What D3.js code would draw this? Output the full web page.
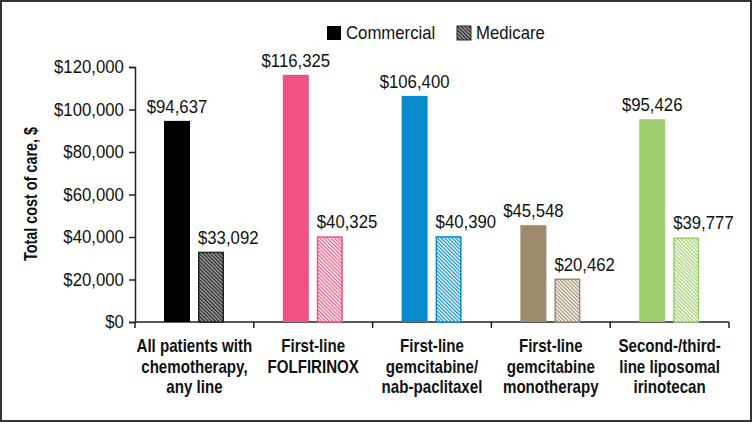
<!DOCTYPE html>
<html>
<head>
<meta charset="utf-8">
<script src="https://cdn.jsdelivr.net/npm/d3@7"></script>
<style>
  html, body { margin: 0; padding: 0; background: #fff; }
  svg text { font-family: "Liberation Sans", Arial, sans-serif; fill: #111; }
</style>
</head>
<body>
<svg id="chart" width="754" height="424"></svg>
<script>
const categories = [
  ["All patients with", "chemotherapy,", "any line"],
  ["First-line", "FOLFIRINOX"],
  ["First-line", "gemcitabine/", "nab-paclitaxel"],
  ["First-line", "gemcitabine", "monotherapy"],
  ["Second-/third-", "line liposomal", "irinotecan"]
];
const seriesNames = ["Commercial", "Medicare"];
const commercial = [94637, 116325, 106400, 45548, 95426];
const medicare = [33092, 40325, 40390, 20462, 39777];
const groupColors = ["#000000", "#EF5181", "#0A8BD0", "#9D8B6C", "#9DCD6C"];
const yTicks = [0, 20000, 40000, 60000, 80000, 100000, 120000];
const yTitle = "Total cost of care, $";

const SX = 0.93;  // condensed look for regular text
const SXB = 0.84; // condensed look for bold text

const svg = d3.select("#chart");
const W = 754, H = 424;

// frame
svg.append("rect").attr("x", 1).attr("y", 1).attr("width", W - 4).attr("height", H - 4)
  .attr("fill", "none").attr("stroke", "#333").attr("stroke-width", 2);

const defs = svg.append("defs");
function hatch(id, color, bg) {
  const p = defs.append("pattern").attr("id", id).attr("patternUnits", "userSpaceOnUse")
    .attr("width", 2.6).attr("height", 2.6).attr("patternTransform", "rotate(-45)");
  p.append("rect").attr("width", 2.6).attr("height", 2.6).attr("fill", bg);
  p.append("rect").attr("x", 0).attr("y", 0).attr("width", 1.2).attr("height", 2.6).attr("fill", color);
}
groupColors.forEach((c, i) => hatch("h" + i, i === 0 ? "#1a1a1a" : c, i === 0 ? "#aaa" : "#fff"));

function label(parent, x, y, txt, opts = {}) {
  const s = opts.bold ? SXB : SX;
  return parent.append("text")
    .attr("transform", `translate(${x},${y}) scale(${s},1)`)
    .attr("text-anchor", opts.anchor || "start")
    .attr("font-size", opts.size || 18)
    .attr("font-weight", opts.bold ? "bold" : "normal")
    .text(txt);
}

const x0 = d3.scaleBand().domain(d3.range(categories.length)).range([135, 729]).padding(0);
const x1 = d3.scaleBand().domain(seriesNames).range([29, 89]).paddingInner(8 / 34).paddingOuter(0);
const y = d3.scaleLinear().domain([0, 120000]).range([322, 67]);

const fmt = v => "$" + d3.format(",")(v);

// y axis
const yAxis = svg.append("g").attr("transform", "translate(135,0)")
  .call(d3.axisLeft(y).tickValues(yTicks).tickFormat(fmt).tickSize(6).tickPadding(6));
yAxis.select(".domain").attr("stroke", "#222").attr("stroke-width", 1.5);
yAxis.selectAll(".tick line").attr("stroke", "#222").attr("stroke-width", 1.5);
yAxis.selectAll("text").attr("font-size", 18).style("font-family", null)
  .attr("transform", `scale(${SX},1)`);

// x axis
const xAxis = svg.append("g").attr("transform", "translate(0,322)");
xAxis.append("line").attr("x1", x0.range()[0]).attr("x2", x0.range()[1])
  .attr("stroke", "#222").attr("stroke-width", 1.5);
const boundaries = d3.range(categories.length + 1).map(i => i < categories.length ? x0(i) : x0(i - 1) + x0.step());
xAxis.selectAll(".xt").data(boundaries).join("line").attr("class", "xt")
  .attr("x1", d => d).attr("x2", d => d).attr("y1", 0).attr("y2", 6)
  .attr("stroke", "#222").attr("stroke-width", 1.5);

// category labels
categories.forEach((lines, i) => {
  lines.forEach((l, j) => label(svg, x0(i) + x0.bandwidth() / 2, 352 + j * 20.5, l, {bold: true, anchor: "middle"}));
});

// bars
const g = svg.append("g");
categories.forEach((c, i) => {
  const cx = x0(i) + x1("Commercial");
  g.append("rect").attr("x", cx).attr("y", y(commercial[i])).attr("width", x1.bandwidth())
    .attr("height", y(0) - y(commercial[i])).attr("fill", groupColors[i]);
  label(g, cx + x1.bandwidth() / 2, y(commercial[i]) - 8, fmt(commercial[i]), {anchor: "middle"});
  const mx = x0(i) + x1("Medicare");
  g.append("rect").attr("x", mx + 0.75).attr("y", y(medicare[i]) + 0.75).attr("width", x1.bandwidth() - 1.5)
    .attr("height", y(0) - y(medicare[i]) - 0.75).attr("fill", "url(#h" + i + ")")
    .attr("stroke", i === 0 ? "#222" : groupColors[i]).attr("stroke-width", 1.5);
  label(g, mx, y(medicare[i]) - 8, fmt(medicare[i]), {anchor: "start"});
});

// y title
svg.append("text").attr("transform", `translate(37,194) rotate(-90) scale(0.8,1)`)
  .attr("text-anchor", "middle").attr("font-size", 18).attr("font-weight", "bold").text(yTitle);

// legend
const leg = svg.append("g");
const legX = [327, 457];
seriesNames.forEach((s, i) => {
  leg.append("rect").attr("x", legX[i]).attr("y", 26).attr("width", 14).attr("height", 14)
    .attr("fill", i === 0 ? "#000" : "url(#h0)").attr("stroke", i === 0 ? "none" : "#222").attr("stroke-width", 1);
  label(leg, legX[i] + 19, 39, s);
});
</script>
</body>
</html>
